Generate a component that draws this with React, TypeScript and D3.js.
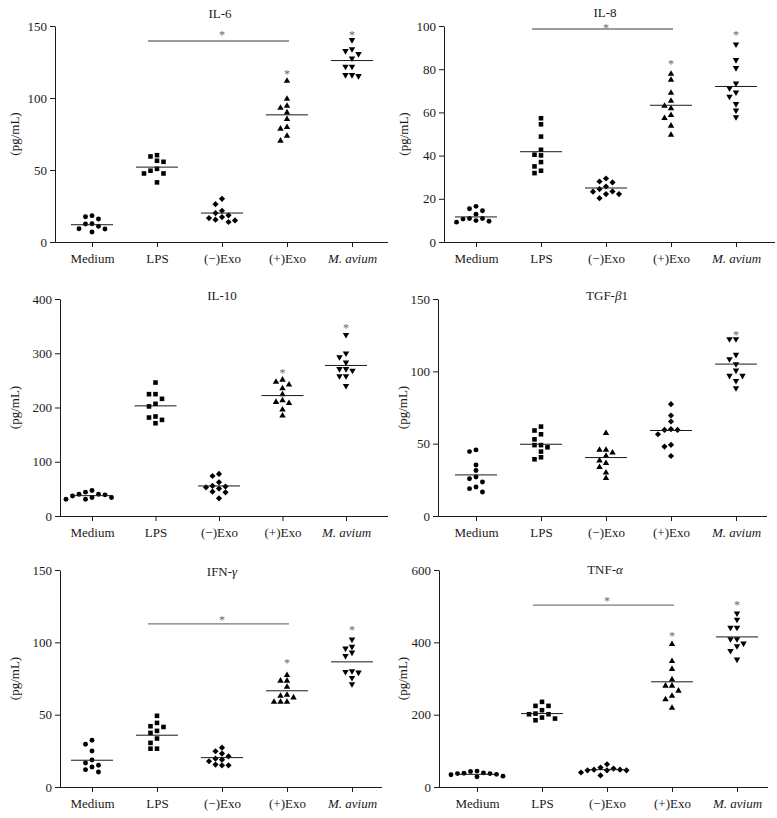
import React, { useRef, useEffect } from "react";
import * as d3 from "d3";

const CATEGORIES = ["Medium", "LPS", "(−)Exo", "(+)Exo", "M. avium"];

// values per group, order follows CATEGORIES
const IL6 = [
  [16.0, 17.5, 18.3, 12.7, 12.5, 10.9, 9.2, 9.0, 6.9],
  [59.4, 60.3, 56.4, 55.7, 50.8, 47.6, 47.6, 49.5, 41.4],
  [30.0, 26.3, 20.1, 21.7, 17.3, 18.5, 16.6, 15.5, 15.0, 13.9],
  [111.9, 99.4, 93.1, 94.5, 89.9, 85.3, 79.7, 78.6, 73.7, 70.3],
  [140.3, 134.0, 132.7, 130.6, 127.6, 121.8, 121.8, 116.0, 115.3, 116.0],
];
const IL6_MEANS = [12.0, 52.0, 20.1, 88.3, 126.0];

const IL8 = [
  [16.5, 15.4, 14.5, 12.9, 10.9, 10.9, 9.6, 9.2, 9.9, 10.6],
  [54.5, 57.3, 48.8, 42.7, 40.1, 40.4, 37.0, 35.0, 33.0, 31.9],
  [29.4, 27.6, 28.0, 25.7, 24.5, 23.3, 23.4, 22.2, 22.2, 20.3],
  [77.8, 75.0, 69.0, 65.3, 63.0, 61.8, 58.7, 57.3, 53.8, 49.6],
  [91.5, 84.3, 80.6, 73.5, 71.2, 69.3, 67.3, 63.9, 60.9, 57.8],
];
const IL8_MEANS = [11.6, 41.8, 25.0, 63.3, 72.0];

const IL10 = [
  [40, 37, 47, 44, 40, 34, 31, 31, 34, 39],
  [246, 224.6, 224.6, 216, 202, 206.8, 181.5, 183.4, 177.2, 171],
  [77.5, 73.8, 62.2, 52.9, 50.5, 55.4, 54.2, 43.7, 44.9, 32.6],
  [251, 242, 247, 235, 224, 208, 210, 213, 196, 185],
  [334, 300, 293, 283, 271, 271, 268, 258, 258, 240],
];
const IL10_MEANS = [37.5, 203, 55.4, 222, 277.5];

const TGF = [
  [45.7, 44.5, 35.3, 31.4, 25.8, 27.0, 23.5, 20.1, 18.9, 16.6],
  [61.8, 59.1, 56.5, 49.0, 47.5, 53.0, 49.0, 44.5, 40.6, 39.2],
  [57.2, 45.7, 45.7, 43.8, 41.5, 36.5, 38.3, 33.7, 30.0, 26.1],
  [77.3, 69.5, 65.3, 59.5, 59.5, 60.0, 56.5, 49.2, 48.0, 41.5],
  [122.3, 122.3, 111.5, 108.5, 105.0, 97.0, 97.0, 100.6, 93.5, 88.4],
];
const TGF_MEANS = [28.4, 49.6, 40.4, 59.1, 105.0];

const IFN = [
  [32.3, 29.5, 24.9, 18.7, 15.0, 13.8, 16.6, 10.4, 12.0],
  [49.2, 44.3, 42.0, 41.5, 38.8, 37.4, 33.5, 30.5, 26.5, 26.5],
  [27.2, 24.7, 21.2, 18.9, 19.6, 23.1, 17.8, 15.5, 15.0, 15.0],
  [77.3, 73.4, 73.4, 69.2, 63.0, 63.7, 61.8, 58.8, 58.8, 58.8],
  [102.0, 97.0, 95.8, 93.0, 90.7, 80.1, 79.2, 79.6, 75.5, 71.1],
];
const IFN_MEANS = [18.5, 35.8, 20.3, 66.5, 86.5];

const TNF = [
  [37, 35, 38, 43, 30, 39, 44, 34, 37, 28],
  [235.4, 224.3, 224.3, 201.2, 212.3, 201.2, 203, 192, 184.6, 189.2],
  [63, 51, 46, 54, 48, 46, 46, 48, 40, 32],
  [395, 348, 326, 297, 279.7, 279.7, 266, 252, 242, 218.8],
  [480, 463, 441, 441, 409, 409, 389.5, 397, 376.6, 352.6],
];
const TNF_MEANS = [35, 203, 48, 290.8, 415];

const IL6_TICKS = [0, 50, 100, 150];
const IL8_TICKS = [0, 20, 40, 60, 80, 100];
const IL10_TICKS = [0, 100, 200, 300, 400];
const TGF_TICKS = [0, 50, 100, 150];
const IFN_TICKS = [0, 50, 100, 150];
const TNF_TICKS = [0, 200, 400, 600];

// asterisks above groups: [category, value]
const IL6_STARS: [string, number][] = [["(+)Exo", 119], ["M. avium", 146]];
const IL8_STARS: [string, number][] = [["(+)Exo", 84], ["M. avium", 97]];
const IL10_STARS: [string, number][] = [["(+)Exo", 269], ["M. avium", 352]];
const TGF_STARS: [string, number][] = [["M. avium", 127]];
const IFN_STARS: [string, number][] = [["(+)Exo", 88], ["M. avium", 110.6]];
const TNF_STARS: [string, number][] = [["(+)Exo", 426], ["M. avium", 511]];

// significance bars: [from, to, value, starValue]
const IL6_BAR: [string, string, number, number] = ["LPS", "(+)Exo", 139.6, 145.5];
const IL8_BAR: [string, string, number, number] = ["LPS", "(+)Exo", 98.6, 100.5];
const IFN_BAR: [string, string, number, number] = ["LPS", "(+)Exo", 112.7, 117.5];
const TNF_BAR: [string, string, number, number] = ["LPS", "(+)Exo", 503, 522];

const SHAPES_DEFAULT = ["circle", "square", "diamond", "up", "down"];
const SHAPES_TGF = ["circle", "square", "up", "diamond", "down"];

const PANELS = [
  { title: [["IL-6", false]], data: IL6, means: IL6_MEANS, ticks: IL6_TICKS, stars: IL6_STARS, bar: IL6_BAR, shapes: SHAPES_DEFAULT },
  { title: [["IL-8", false]], data: IL8, means: IL8_MEANS, ticks: IL8_TICKS, stars: IL8_STARS, bar: IL8_BAR, shapes: SHAPES_DEFAULT },
  { title: [["IL-10", false]], data: IL10, means: IL10_MEANS, ticks: IL10_TICKS, stars: IL10_STARS, bar: null, shapes: SHAPES_DEFAULT },
  { title: [["TGF-", false], ["β", true], ["1", false]], data: TGF, means: TGF_MEANS, ticks: TGF_TICKS, stars: TGF_STARS, bar: null, shapes: SHAPES_TGF },
  { title: [["IFN-", false], ["γ", true]], data: IFN, means: IFN_MEANS, ticks: IFN_TICKS, stars: IFN_STARS, bar: IFN_BAR, shapes: SHAPES_DEFAULT },
  { title: [["TNF-", false], ["α", true]], data: TNF, means: TNF_MEANS, ticks: TNF_TICKS, stars: TNF_STARS, bar: TNF_BAR, shapes: SHAPES_DEFAULT },
];

const LAYOUT = [
  { x0: 55, xEnd: 388, top: 26, bottom: 242, first: 92, last: 352, titleX: 220, titleY: 18, labelX: 15 },
  { x0: 444, xEnd: 775, top: 26, bottom: 242, first: 476, last: 736, titleX: 605, titleY: 17, labelX: 404 },
  { x0: 60, xEnd: 388, top: 299, bottom: 516, first: 92, last: 346, titleX: 222, titleY: 300, labelX: 15 },
  { x0: 438, xEnd: 767, top: 299, bottom: 516, first: 476, last: 736, titleX: 607, titleY: 300, labelX: 403 },
  { x0: 60, xEnd: 382, top: 570, bottom: 787, first: 92, last: 352, titleX: 222, titleY: 576, labelX: 15 },
  { x0: 439, xEnd: 768, top: 570, bottom: 787, first: 477, last: 737, titleX: 605, titleY: 574, labelX: 403 },
];

const FONT = "Liberation Serif, Times New Roman, serif";
const INK = "#1a1a1a";
const STAR = "*";

function swarm(pys: number[], step: number, h: number): number[] {
  const idx = pys.map((_, i) => i).sort((a, b) => pys[a] - pys[b]);
  const placed: { k: number; py: number }[] = [];
  const out = new Array(pys.length).fill(0);
  const cands = [0, -1, 1, -2, 2, -3, 3, -4, 4];
  for (const i of idx) {
    const py = pys[i];
    for (const k of cands) {
      const ok = placed.every((p) => p.k !== k || Math.abs(p.py - py) >= h);
      if (ok) {
        placed.push({ k, py });
        out[i] = k * step;
        break;
      }
    }
  }
  return out;
}

function symbolPath(shape: string): string {
  if (shape === "circle") return d3.symbol().type(d3.symbolCircle).size(19)() as string;
  if (shape === "square") return d3.symbol().type(d3.symbolSquare).size(21)() as string;
  if (shape === "diamond") return d3.symbol().type(d3.symbolSquare).size(19)() as string;
  return d3.symbol().type(d3.symbolTriangle).size(18)() as string;
}
function symbolRotate(shape: string): number {
  if (shape === "diamond") return 45;
  if (shape === "down") return 180;
  return 0;
}

export default function App() {
  const ref = useRef<SVGSVGElement | null>(null);
  useEffect(() => {
    const svg = d3.select(ref.current);
    svg.selectAll("*").remove();
    svg.append("rect").attr("width", 777).attr("height", 818).attr("fill", "#fff");

    PANELS.forEach((p, pi) => {
      const L = LAYOUT[pi];
      const yMax = p.ticks[p.ticks.length - 1];
      const y = d3.scaleLinear().domain([0, yMax]).range([L.bottom, L.top]);
      const x = d3.scalePoint<string>().domain(CATEGORIES).range([L.first, L.last]);
      const g = svg.append("g");

      // Y axis
      const ya = g.append("g").attr("transform", `translate(${L.x0},0)`)
        .call(d3.axisLeft(y).tickValues(p.ticks).tickSize(5).tickSizeOuter(0).tickPadding(3).tickFormat(d3.format("d")));
      ya.selectAll("text").attr("font-size", 13).attr("font-family", FONT).attr("fill", INK);
      ya.selectAll("line,path").attr("stroke", INK);

      // X axis
      const xa = g.append("g").attr("transform", `translate(0,${L.bottom})`)
        .call(d3.axisBottom(x).tickSize(5).tickSizeOuter(0).tickPadding(7));
      xa.select(".domain").attr("d", `M${L.x0},0.5H${L.xEnd}`);
      xa.selectAll("text").attr("font-size", 13).attr("font-family", FONT).attr("fill", INK)
        .attr("font-style", (d: any) => (d === "M. avium" ? "italic" : "normal"));
      xa.selectAll("line,path").attr("stroke", INK);

      // title
      const t = g.append("text").attr("x", L.titleX).attr("y", L.titleY).attr("text-anchor", "middle")
        .attr("font-size", 13).attr("font-family", FONT).attr("fill", INK);
      p.title.forEach(([s, it]) => t.append("tspan").text(s as string).attr("font-style", it ? "italic" : "normal"));

      // y label
      g.append("text").attr("transform", `translate(${L.labelX + 4},${(L.top + L.bottom) / 2}) rotate(-90)`)
        .attr("text-anchor", "middle").attr("font-size", 13).attr("font-family", FONT).attr("fill", INK)
        .text("(pg/mL)");

      // points
      p.data.forEach((vals, ci) => {
        const cat = CATEGORIES[ci];
        const cx = x(cat) as number;
        const pys = vals.map((v) => y(v));
        const offs = swarm(pys, 6.5, 5.5);
        const shape = p.shapes[ci];
        const path = symbolPath(shape);
        const rot = symbolRotate(shape);
        g.append("g").selectAll("path").data(vals).join("path")
          .attr("d", path)
          .attr("transform", (_, i) => `translate(${cx + offs[i]},${pys[i]}) rotate(${rot})`)
          .attr("fill", "#000");
        // mean line
        g.append("line").attr("x1", cx - 21).attr("x2", cx + 21)
          .attr("y1", y(p.means[ci])).attr("y2", y(p.means[ci]))
          .attr("stroke", INK).attr("stroke-width", 1);
      });

      const starG = g.append("g").attr("opacity", 0.62);
      // stars
      p.stars.forEach(([cat, v]) => {
        starG.append("text").attr("x", x(cat) as number).attr("y", y(v) + 7).attr("text-anchor", "middle")
          .attr("font-size", 12).attr("font-family", FONT).attr("fill", "#000").text(STAR);
      });

      // significance bar
      if (p.bar) {
        const [a, b, v, sv] = p.bar;
        g.append("line").attr("x1", (x(a) as number) - 9).attr("x2", (x(b) as number) + 2)
          .attr("y1", y(v)).attr("y2", y(v)).attr("stroke", "#7a7a7a").attr("stroke-width", 1.3);
        starG.append("text").attr("x", x("(−)Exo") as number).attr("y", y(sv) + 7).attr("text-anchor", "middle")
          .attr("font-size", 12).attr("font-family", FONT).attr("fill", "#000").text(STAR);
      }
    });
  }, []);
  return (
    <svg ref={ref} width={777} height={818}
      style={{ position: "absolute", left: 0, top: 0, display: "block" }} />
  );
}
